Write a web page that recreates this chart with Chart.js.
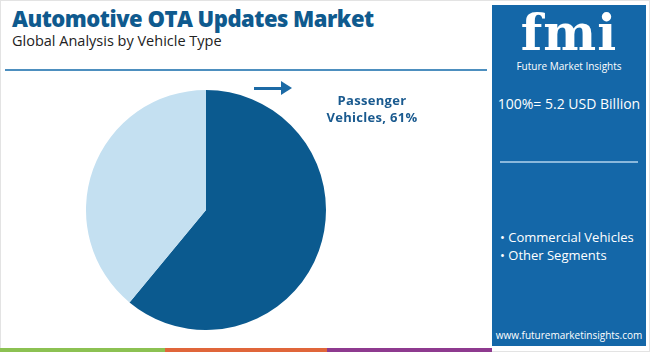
<!DOCTYPE html>
<html>
<head>
<meta charset="utf-8">
<script src="https://cdn.jsdelivr.net/npm/chart.js@4"></script>
<style>
    body { margin: 0; width: 650px; height: 352px; background: #fff; position: relative; overflow: hidden; font-family: "Open Sans", sans-serif; }
    .frame { position: absolute; left: 0; top: 0; width: 648px; height: 350px; border: 1px solid #e3e3e3; }
    .title { position: absolute; left: 12px; top: 3px; font-size: 22px; font-weight: 800; color: #0f5a8e; letter-spacing: -0.5px; }
    .subtitle { position: absolute; left: 12px; top: 31px; font-size: 14.5px; color: #222; }
    .rule { position: absolute; left: 5px; top: 69px; width: 482px; height: 2px; background: #4d8fbf; }
    .pie-box { position: absolute; left: 86px; top: 90px; width: 240px; height: 240px; }
    .arrow { position: absolute; left: 254px; top: 87px; width: 28px; height: 3px; background: #1c6aa5; }
    .arrow-head { position: absolute; left: 281px; top: 81px; width: 0; height: 0; border-top: 7.5px solid transparent; border-bottom: 7.5px solid transparent; border-left: 11px solid #1c6aa5; }
    .label { position: absolute; left: 310px; top: 92px; width: 124px; text-align: center; font-size: 13px; font-weight: 700; line-height: 17px; color: #1a5a8f; letter-spacing: 0.3px; }
    .panel { position: absolute; left: 492px; top: 5px; width: 154px; height: 341px; background: #1467a8; color: #fff; }
    .logo { position: absolute; left: 0; top: 2px; width: 154px; text-align: center; font-family: "DejaVu Serif", serif; font-weight: 700; font-size: 50px; line-height: 52px; letter-spacing: 1px; }
    .logo-sub { position: absolute; left: 0; top: 54px; width: 154px; text-align: center; font-size: 10px; }
    .total { position: absolute; left: 0; top: 89px; width: 154px; text-align: center; font-size: 14px; }
    .panel-rule { position: absolute; left: 8px; top: 156px; width: 138px; height: 2px; background: #8ab8dc; }
    .seg { position: absolute; left: 8px; top: 223px; font-size: 13px; line-height: 18px; }
    .url { position: absolute; left: 0; top: 323px; width: 154px; text-align: center; font-size: 10px; }
    .stripe { position: absolute; top: 348px; height: 4px; }
</style>
</head>
<body>
<div class="frame"></div>
<div class="title">Automotive OTA Updates Market</div>
<div class="subtitle">Global Analysis by Vehicle Type</div>
<div class="rule"></div>

<div class="pie-box"><canvas id="pieChart"></canvas></div>
<div class="arrow"></div>
<div class="arrow-head"></div>
<div class="label" id="mainLabel"></div>

<div class="panel">
    <div class="logo">fmi</div>
    <div class="logo-sub">Future Market Insights</div>
    <div class="total" id="totalText"></div>
    <div class="panel-rule"></div>
    <div class="seg" id="segList"></div>
    <div class="url">www.futuremarketinsights.com</div>
</div>

<div class="stripe" style="left:0;width:165px;background:#8cc152;"></div>
<div class="stripe" style="left:165px;width:162px;background:#e0663a;"></div>
<div class="stripe" style="left:327px;width:165px;background:#8e3a8f;"></div>

<script>
const segments = ['Passenger Vehicles', 'Commercial Vehicles'];
const shares = [61, 39];
const colors = ['#0b5a8f', '#c4e0f1'];
const otherSegments = ['Commercial Vehicles', 'Other Segments'];
const marketTotal = '5.2 USD Billion';

document.addEventListener('DOMContentLoaded', function() {
    document.getElementById('mainLabel').innerHTML = 'Passenger<br>Vehicles, ' + shares[0] + '%';
    document.getElementById('totalText').innerText = '100%= ' + marketTotal;
    document.getElementById('segList').innerHTML = otherSegments.map(s => '• ' + s).join('<br>');

    const ctx = document.getElementById('pieChart').getContext('2d');
    new Chart(ctx, {
        type: 'pie',
        data: {
            labels: segments,
            datasets: [{
                data: shares,
                backgroundColor: colors,
                borderWidth: 0
            }]
        },
        options: {
            responsive: true,
            maintainAspectRatio: false,
            animation: false,
            layout: { padding: 0 },
            plugins: {
                legend: { display: false },
                tooltip: { enabled: false }
            }
        }
    });
});
</script>
</body>
</html>
